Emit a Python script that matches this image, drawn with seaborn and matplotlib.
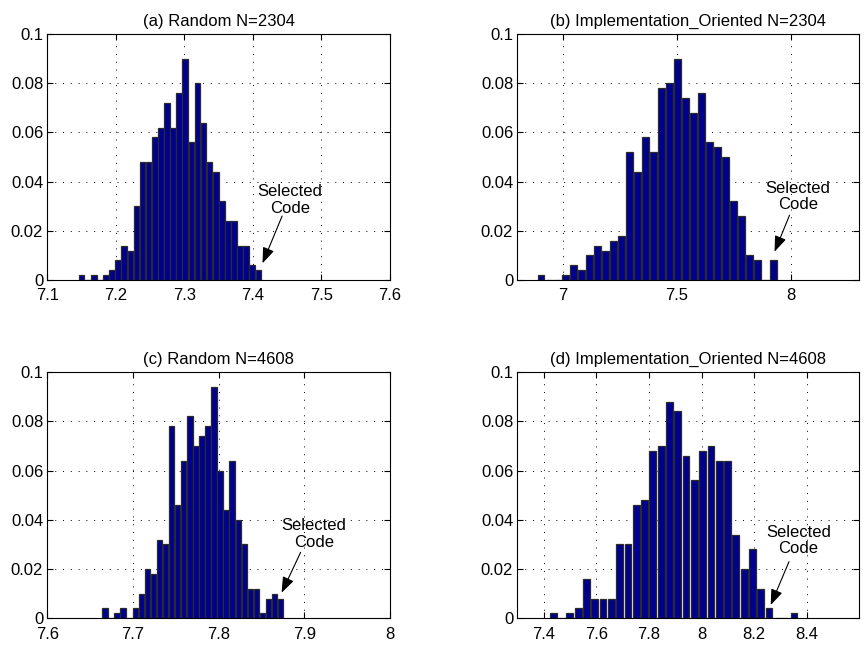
import numpy as np
import pandas as pd
import matplotlib
matplotlib.use("Agg")
import matplotlib.pyplot as plt
import seaborn as sns

# histogram heights (relative frequency), 30 bins per panel
a_vals = [0.002, 0, 0.002, 0, 0.002, 0.004, 0.008, 0.014, 0.012, 0.030,
          0.048, 0.048, 0.058, 0.062, 0.072, 0.062, 0.076, 0.090, 0.056, 0.080,
          0.064, 0.048, 0.044, 0.032, 0.024, 0.024, 0.014, 0.014, 0.006, 0.004]
b_vals = [0.002, 0, 0, 0.002, 0.006, 0.004, 0.010, 0.014, 0.012, 0.016,
          0.018, 0.052, 0.044, 0.058, 0.052, 0.078, 0.080, 0.090, 0.074, 0.068,
          0.076, 0.056, 0.054, 0.050, 0.032, 0.026, 0.010, 0.008, 0, 0.008]
c_vals = [0.004, 0, 0.002, 0.004, 0, 0.004, 0.010, 0.020, 0.018, 0.032,
          0.030, 0.078, 0.046, 0.064, 0.082, 0.070, 0.074, 0.078, 0.094, 0.060,
          0.044, 0.064, 0.040, 0.030, 0.012, 0.012, 0.002, 0.008, 0.010, 0.008]
d_vals = [0.002, 0, 0.002, 0.004, 0.016, 0.008, 0.008, 0.008, 0.030, 0.030,
          0.046, 0.048, 0.068, 0.070, 0.088, 0.084, 0.066, 0.056, 0.068, 0.070,
          0.064, 0.064, 0.034, 0.020, 0.028, 0.012, 0.004, 0, 0, 0.002]

# first / last bin centre (hist bins are evenly spaced between them)
a_range = (7.150, 7.408)
b_range = (6.904, 7.923)
c_range = (7.6673, 7.8724)
d_range = (7.4366, 8.3514)

titles = ["(a) Random N=2304", "(b) Implementation_Oriented N=2304",
          "(c) Random N=4608", "(d) Implementation_Oriented N=4608"]
xlims = [(7.1, 7.6), (6.8, 8.3), (7.6, 8.0), (7.3, 8.6)]
xticks = [[7.1, 7.2, 7.3, 7.4, 7.5, 7.6], [7, 7.5, 8],
          [7.6, 7.7, 7.8, 7.9, 8], [7.4, 7.6, 7.8, 8, 8.2, 8.4]]
yticks = [0, 0.02, 0.04, 0.06, 0.08, 0.1]
bar_widths = [0.93, 0.86, 0.9, 0.82]

# label position, arrow tail, arrow head (data coords)
label_xy = [(7.454, 0.0325), (8.03, 0.0339), (7.911, 0.0342), (8.368, 0.0315)]
arrow_tail = [(7.4426, 0.026), (7.994, 0.0264), (7.8957, 0.0268), (8.3325, 0.023)]
arrow_head = [(7.414, 0.0068), (7.928, 0.0115), (7.8735, 0.0104), (8.263, 0.0054)]

sns.set_style("ticks")
plt.rcParams['font.family'] = ['Liberation Sans', 'DejaVu Sans']
plt.rcParams['font.size'] = 12
plt.rcParams['text.color'] = 'black'

fig = plt.figure(figsize=(8.67, 6.47), dpi=100)
positions = [[0.0546, 0.5672, 0.3952, 0.3802], [0.5967, 0.5672, 0.3945, 0.3802],
             [0.0546, 0.0443, 0.3952, 0.3807], [0.5967, 0.0443, 0.3945, 0.3807]]

panels = [(a_vals, a_range), (b_vals, b_range), (c_vals, c_range), (d_vals, d_range)]
for i, (vals, rng) in enumerate(panels):
    ax = fig.add_axes(positions[i])
    centres = np.linspace(rng[0], rng[1], len(vals))
    df = pd.DataFrame({"x": centres, "y": vals})
    sns.barplot(data=df, x="x", y="y", native_scale=True, width=bar_widths[i],
                color="#00008F", saturation=1, edgecolor="#2b2b2b",
                linewidth=0.9, errorbar=None, ax=ax)
    ax.set_xlim(*xlims[i])
    ax.set_ylim(0, 0.1)
    ax.set_xticks(xticks[i])
    ax.set_xticklabels(["%g" % t for t in xticks[i]])
    ax.set_yticks(yticks)
    ax.set_yticklabels(["%g" % t for t in yticks])
    ax.set_xlabel("")
    ax.set_ylabel("")
    ax.grid(True, linestyle=(0, (1, 7)), color="black", linewidth=0.7)
    ax.set_axisbelow(True)
    ax.tick_params(direction="in", top=True, right=True, length=4,
                   labelsize=12, colors="black")
    ax.tick_params(axis="x", pad=6)
    ax.tick_params(axis="y", pad=3)
    for s in ax.spines.values():
        s.set_visible(True)
        s.set_color("black")
        s.set_linewidth(0.8)
    ax.set_title(titles[i], fontsize=12, pad=6, color="black")
    ax.text(label_xy[i][0], label_xy[i][1], "Selected\nCode", ha="center",
            va="center", fontsize=12, linespacing=1.1, color="black")
    ax.annotate("", xy=arrow_head[i], xytext=arrow_tail[i],
                arrowprops=dict(arrowstyle="-|>,head_length=0.8,head_width=0.3",
                                color="black", lw=0.8, shrinkA=0, shrinkB=0))

fig.savefig("out.png", dpi=100)
